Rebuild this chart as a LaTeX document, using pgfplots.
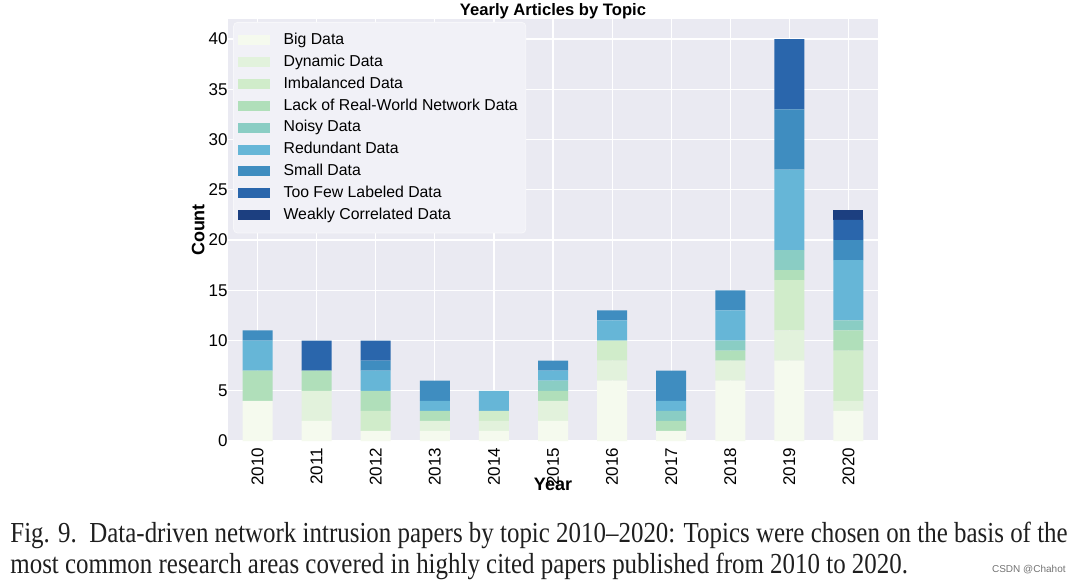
\documentclass[border=0pt]{standalone}
\usepackage{pgfplots}
\pgfplotsset{compat=1.18}
\usepackage{fontspec}
\setmainfont{Liberation Sans}
\newfontfamily\capfont{Liberation Serif}[FakeStretch=0.86]

\definecolor{cBig}{HTML}{F5FAEE}
\definecolor{cDyn}{HTML}{E2F2DC}
\definecolor{cImb}{HTML}{D0ECCA}
\definecolor{cLack}{HTML}{B0DFBA}
\definecolor{cNoisy}{HTML}{8ACDC4}
\definecolor{cRed}{HTML}{66B6D7}
\definecolor{cSmall}{HTML}{3F8DC0}
\definecolor{cFew}{HTML}{2A66AC}
\definecolor{cWeak}{HTML}{1C3F80}
\definecolor{sbbg}{HTML}{EAEAF2}

% year index 0..10 = 2010..2020
\pgfplotstableread{
x big dyn imb lack noisy red small few weak
0  4 0 0 3 0 3 1 0 0
1  2 3 0 2 0 0 0 3 0
2  1 0 2 2 0 2 1 2 0
3  1 1 0 1 0 1 2 0 0
4  1 1 1 0 0 2 0 0 0
5  2 2 0 1 1 1 1 0 0
6  6 2 2 0 0 2 1 0 0
7  1 0 0 1 1 1 3 0 0
8  6 2 0 1 1 3 2 0 0
9  8 3 5 1 2 8 6 7 0
10 3 1 5 2 1 6 2 2 1
}\counts

\begin{document}
\begin{tikzpicture}
\useasboundingbox (0,0) rectangle (540pt,-291.5pt);
\begin{axis}[
    at={(114pt,-9.5pt)}, anchor=north west,
    scale only axis, width=325pt, height=211pt,
    ybar stacked, bar width=15pt,
    xmin=-0.5, xmax=10.5, ymin=0, ymax=42,
    xtick={0,...,10},
    xticklabels={2010,2011,2012,2013,2014,2015,2016,2017,2018,2019,2020},
    x tick label style={rotate=90, anchor=east},
    y tick label style={xshift=3.3pt},
    ytick={0,5,...,40},
    tick label style={font=\fontsize{8.5}{10}\selectfont},
    /pgf/number format/assume math mode=true,
    major tick length=0pt,
    axis background/.style={fill=sbbg},
    axis line style={draw=none},
    grid=major, grid style={white, line width=0.6pt},
    every axis title shift=0pt,
    title={\textbf{Yearly Articles by Topic}},
    title style={font=\fontsize{8.3}{10}\selectfont, at={(0.5,1)}, anchor=base, inner sep=0pt, yshift=1.6pt},
    xlabel={\textbf{Year}}, ylabel={\textbf{Count}},
    label style={font=\fontsize{9}{10}\selectfont},
    xlabel style={yshift=11pt},
    ylabel style={at={(axis description cs:-0.046,0.5)}, anchor=center, inner sep=0pt},
    legend cell align=left,
    legend style={at={(0.008,0.993)}, anchor=north west,
        fill=white!35!sbbg, draw=white!60!sbbg, rounded corners=2pt,
        font=\fontsize{7.9}{10}\selectfont,
        inner xsep=2pt, inner ysep=3.5pt,
        nodes={inner ysep=1.85pt}},
    legend image code/.code={\fill[#1, sharp corners] (0pt,-2.5pt) rectangle (16pt,2.5pt);
        \path (21pt,0pt);},
    every axis plot/.append style={draw=none},
]
\addplot[fill=cBig] table[x=x,y=big]{\counts};
\addlegendentry{Big Data}
\addplot[fill=cDyn] table[x=x,y=dyn]{\counts};
\addlegendentry{Dynamic Data}
\addplot[fill=cImb] table[x=x,y=imb]{\counts};
\addlegendentry{Imbalanced Data}
\addplot[fill=cLack] table[x=x,y=lack]{\counts};
\addlegendentry{Lack of Real-World Network Data}
\addplot[fill=cNoisy] table[x=x,y=noisy]{\counts};
\addlegendentry{Noisy Data}
\addplot[fill=cRed] table[x=x,y=red]{\counts};
\addlegendentry{Redundant Data}
\addplot[fill=cSmall] table[x=x,y=small]{\counts};
\addlegendentry{Small Data}
\addplot[fill=cFew] table[x=x,y=few]{\counts};
\addlegendentry{Too Few Labeled Data}
\addplot[fill=cWeak] table[x=x,y=weak]{\counts};
\addlegendentry{Weakly Correlated Data}
\end{axis}
\node[anchor=base west, inner sep=0pt, font=\capfont\fontsize{14.5}{15}\selectfont, text=black!88]
  at (5pt,-271pt) {Fig. 9.\ \ Data-driven network intrusion papers by topic 2010–2020: Topics were chosen on the basis of the};
\node[anchor=base west, inner sep=0pt, font=\capfont\fontsize{14.5}{15}\selectfont, text=black!88]
  at (5pt,-286.5pt) {most common research areas covered in highly cited papers published from 2010 to 2020.};
\node[anchor=base east, inner sep=0pt, font=\fontsize{5}{6}\selectfont, text=black!55]
  at (533pt,-286pt) {CSDN @Chahot};
\end{tikzpicture}
\end{document}
